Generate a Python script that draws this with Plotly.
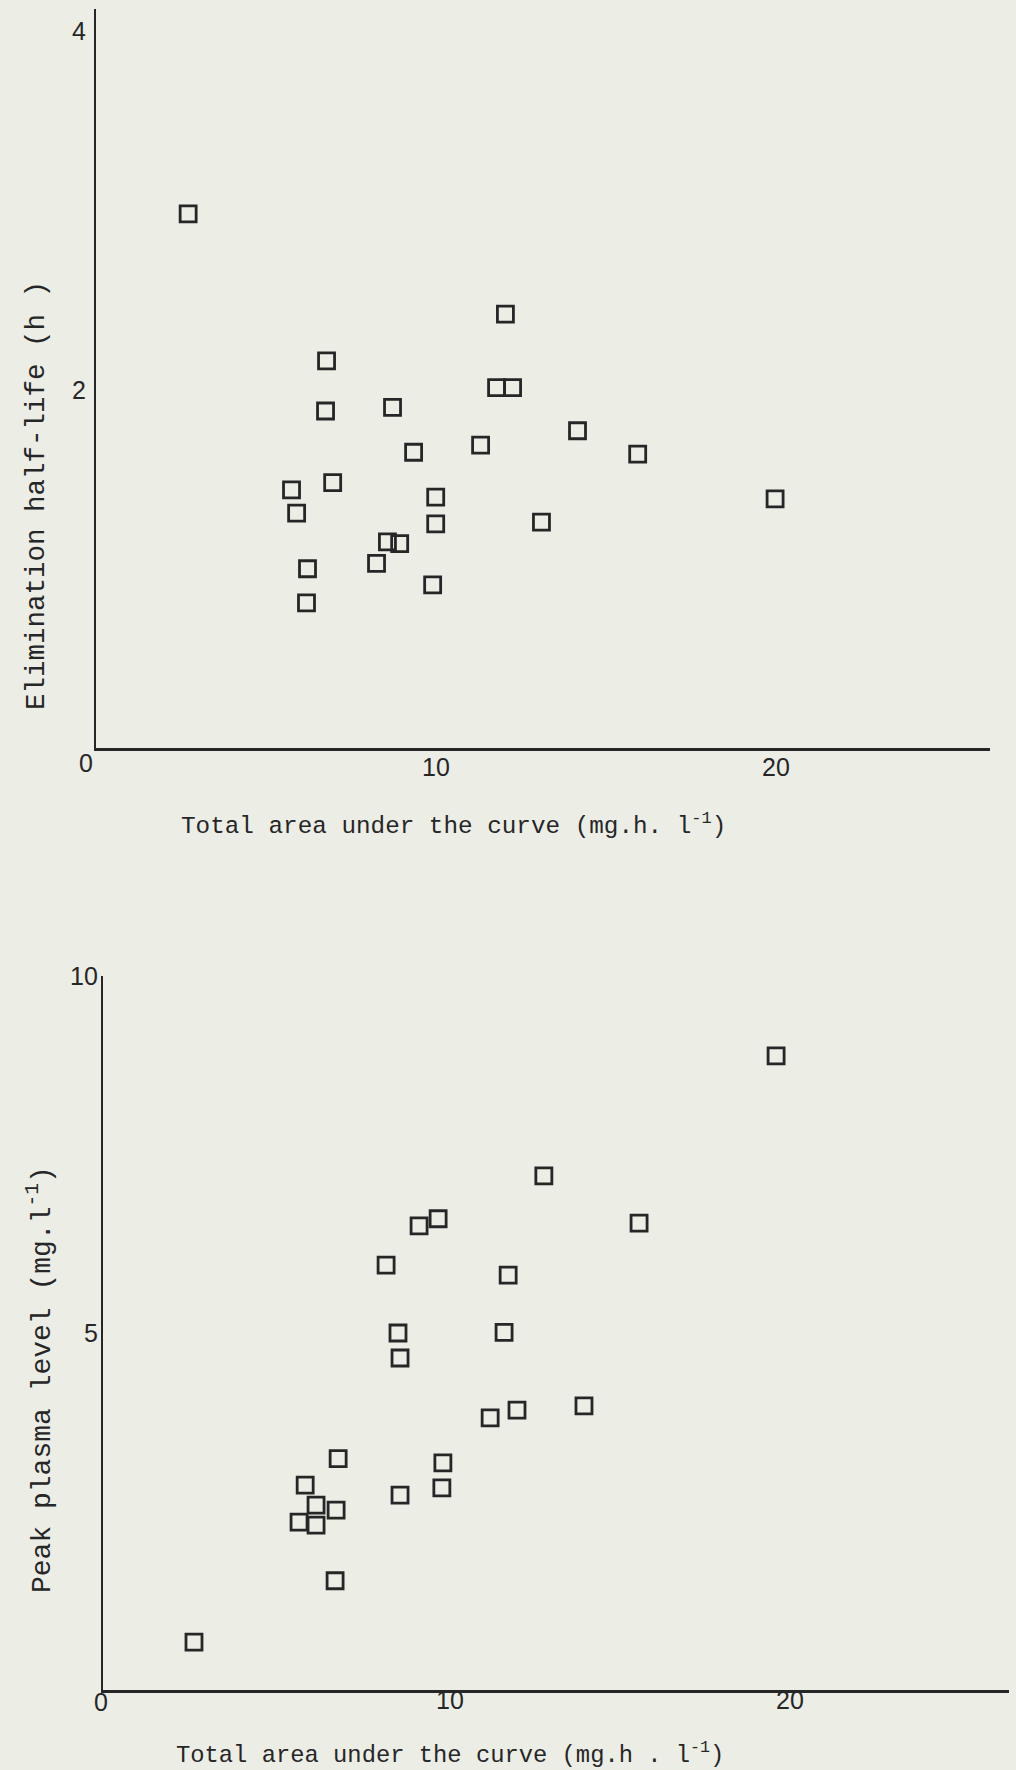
import plotly.graph_objects as go

# ---------------- data ----------------
auc_top = [2.71, 12.04, 6.78, 6.75, 8.72, 11.78, 12.25, 14.16, 9.34, 11.31, 15.93, 5.75,
           6.96, 5.90, 9.99, 19.97, 9.99, 13.10, 8.57, 8.93, 8.25, 6.22, 9.90, 6.19]
half_life = [2.98, 2.42, 2.16, 1.88, 1.90, 2.01, 2.01, 1.77, 1.65, 1.69, 1.64, 1.44,
             1.48, 1.31, 1.40, 1.39, 1.25, 1.26, 1.15, 1.14, 1.03, 1.00, 0.91, 0.81]

auc_bottom = [19.59, 12.76, 9.65, 9.09, 15.56, 8.12, 11.71, 8.47, 11.59, 8.53, 13.94, 11.97,
              11.18, 6.71, 9.79, 5.74, 9.76, 8.53, 6.06, 6.65, 5.56, 6.06, 6.62, 2.47]
peak_level = [8.88, 7.20, 6.60, 6.50, 6.54, 5.95, 5.81, 5.00, 5.01, 4.65, 3.98, 3.92,
              3.81, 3.24, 3.18, 2.87, 2.83, 2.73, 2.59, 2.52, 2.35, 2.31, 1.53, 0.67]

x_ticks = [10, 20]
x_tick_labels = ["10", "20"]
y_top_ticks = [2, 4]
y_top_labels = ["2", "4"]
y_bot_ticks = [5, 10]
y_bot_labels = ["5", "10"]

x_title = "Total area under the curve (mg.h. l<sup>-1</sup>)"
x_title2 = "Total area under the curve (mg.h . l<sup>-1</sup>)"
y_title_top = "Elimination half-life (h )"
y_title_bot = "Peak plasma level (mg.l<sup>-1</sup>)"

# ---------------- styling ----------------
W, H = 1016, 1770
BG = "#eceee6"
INK = "#262626"
MONO = "Liberation Mono, Courier New, monospace"
SANS = "Liberation Sans Narrow, Liberation Sans, Arial, sans-serif"
TICK = 25


def fx(p):
    return p / W


def fy(p):
    return 1 - p / H


marker = dict(symbol="square-open", size=16, color=INK, line=dict(width=2.8, color=INK))

fig = go.Figure()
fig.add_trace(go.Scatter(x=auc_top, y=half_life, mode="markers", marker=marker,
                         xaxis="x", yaxis="y", showlegend=False, cliponaxis=False))
fig.add_trace(go.Scatter(x=auc_bottom, y=peak_level, mode="markers", marker=marker,
                         xaxis="x2", yaxis="y2", showlegend=False, cliponaxis=False))

axis_common = dict(showgrid=False, zeroline=False, showline=True, linecolor=INK,
                   ticks="", showticklabels=False, fixedrange=True)

TOP_Y0, TOP_Y1 = 748, 9          # pixel rows of y=0 and top of the top plot
BOT_Y0, BOT_Y1 = 1690, 976       # pixel rows of y=0 and y=10 of the bottom plot

fig.update_layout(
    width=W, height=H,
    margin=dict(l=0, r=0, t=0, b=0),
    paper_bgcolor=BG, plot_bgcolor=BG,
    xaxis=dict(domain=[fx(96), fx(990)], range=[0, 26.29], anchor="y",
               linewidth=3, **axis_common),
    yaxis=dict(domain=[fy(TOP_Y0), fy(TOP_Y1)], range=[0, (TOP_Y0 - TOP_Y1) / 179.25],
               anchor="x", linewidth=2, **axis_common),
    xaxis2=dict(domain=[fx(103), fx(1009)], range=[-0.206, 26.44], anchor="y2",
                linewidth=3, **axis_common),
    yaxis2=dict(domain=[fy(BOT_Y0), fy(BOT_Y1)], range=[0, 10], anchor="x2",
                linewidth=2, **axis_common),
)

tick_font = dict(family=SANS, size=TICK, color=INK)
ann = []
# x tick labels (placed at data values through the axes)
for v, t in zip(x_ticks, x_tick_labels):
    ann.append(dict(text=t, xref="x", yref="paper", x=v, y=fy(767), showarrow=False,
                    font=tick_font, xanchor="center", yanchor="middle"))
    ann.append(dict(text=t, xref="x2", yref="paper", x=v, y=fy(1700), showarrow=False,
                    font=tick_font, xanchor="center", yanchor="middle"))
# y tick labels
for v, t in zip(y_top_ticks, y_top_labels):
    ann.append(dict(text=t, xref="paper", yref="y", x=fx(88), y=v,
                    showarrow=False, font=tick_font, xanchor="right", yanchor="middle"))
for v, t in zip(y_bot_ticks, y_bot_labels):
    ann.append(dict(text=t, xref="paper", yref="y2", x=fx(100), y=v,
                    showarrow=False, font=tick_font, xanchor="right", yanchor="middle"))
# corner zeros
ann.append(dict(text="0", xref="paper", yref="paper", x=fx(86), y=fy(763),
                showarrow=False, font=tick_font, xanchor="center", yanchor="middle"))
ann.append(dict(text="0", xref="paper", yref="paper", x=fx(101), y=fy(1702),
                showarrow=False, font=tick_font, xanchor="center", yanchor="middle"))
# axis titles
ann.append(dict(text=x_title, xref="paper", yref="paper", x=fx(453), y=fy(824),
                showarrow=False, font=dict(family=MONO, size=24.3, color=INK),
                xanchor="center", yanchor="middle"))
ann.append(dict(text=x_title2, xref="paper", yref="paper", x=fx(450), y=fy(1753),
                showarrow=False, font=dict(family=MONO, size=23.8, color=INK),
                xanchor="center", yanchor="middle"))
ann.append(dict(text=y_title_top, xref="paper", yref="paper", x=fx(37), y=fy(496),
                showarrow=False, textangle=-90, font=dict(family=MONO, size=27.5, color=INK),
                xanchor="center", yanchor="middle"))
ann.append(dict(text=y_title_bot, xref="paper", yref="paper", x=fx(40), y=fy(1380),
                showarrow=False, textangle=-90, font=dict(family=MONO, size=28, color=INK),
                xanchor="center", yanchor="middle"))
fig.update_layout(annotations=ann)

fig.write_html(
    "out.html",
    config={"displayModeBar": False, "staticPlot": True},
    post_script=(
        "document.documentElement.style.margin='0';"
        "document.body.style.margin='0';document.body.style.padding='0';"
        "document.body.style.background='#eceee6';"
        "document.documentElement.style.background='#eceee6';"
        "document.body.style.overflow='hidden';"
    ),
)
